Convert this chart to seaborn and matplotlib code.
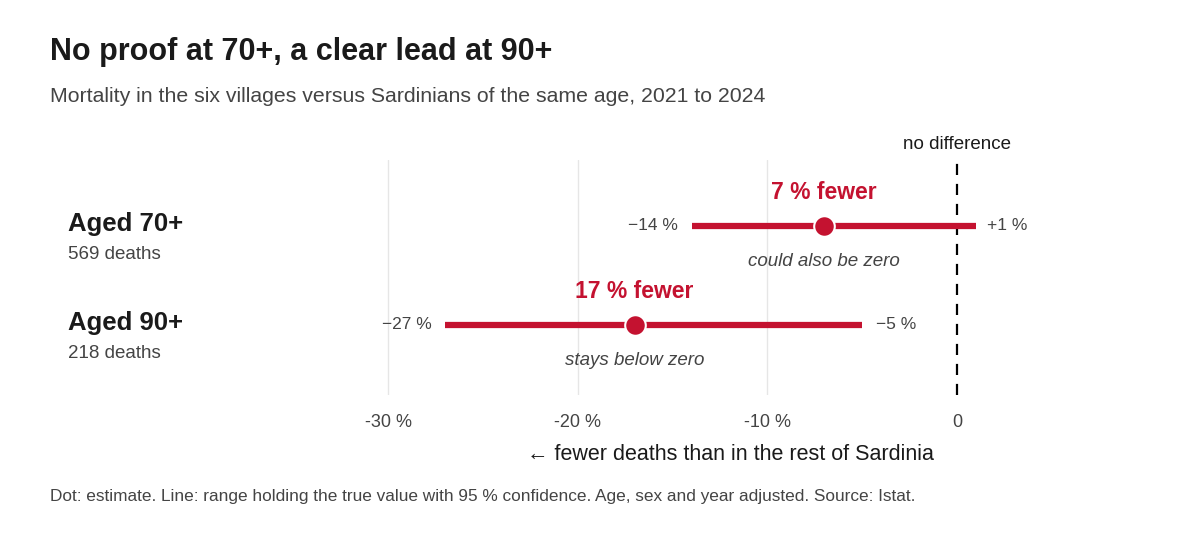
import numpy as np
import pandas as pd
import matplotlib
matplotlib.use("Agg")
import matplotlib.pyplot as plt
import seaborn as sns

groups = ["Aged 70+", "Aged 90+"]
deaths = ["569 deaths", "218 deaths"]
estimate = [-7, -17]
lower = [-14, -27]
upper = [1, -5]
headline = ["7 % fewer", "17 % fewer"]
verdict = ["could also be zero", "stays below zero"]
ticks = [-30, -20, -10, 0]
tick_labels = ["-30 %", "-20 %", "-10 %", "0"]

RED = "#c41230"
DARK = "#1a1a1a"
GREY = "#444444"

sns.set_style("white")
plt.rcParams["font.family"] = ["Liberation Sans", "DejaVu Sans"]

fig = plt.figure(figsize=(12, 5.33), dpi=100)
ax = fig.add_axes([0.275, 0.259, 0.6, 0.441])

df = pd.DataFrame({"row": [0, 1], "est": estimate, "lo": lower, "hi": upper})

for x in ticks[:-1]:
    ax.axvline(x, color="#e6e6e6", lw=1, zorder=0)
ax.axvline(0, color="black", lw=1.6, ls=(0, (5, 4)), zorder=1)

ax.hlines(df["row"], df["lo"], df["hi"], color=RED, lw=4.5, zorder=2)
sns.scatterplot(data=df, x="est", y="row", ax=ax, color=RED, s=220,
                edgecolor="white", linewidth=1.5, zorder=3, legend=False)

for i, r in df.iterrows():
    ax.text(r["est"], i - 0.34, headline[i], ha="center", va="center",
            color=RED, fontsize=16.5, fontweight="bold")
    ax.text(r["est"], i + 0.36, verdict[i], ha="center", va="center",
            color=GREY, fontsize=13.5, style="italic")
    ax.text(r["lo"] - 0.7, i, f"\u2212{abs(r['lo'])} %", ha="right", va="center",
            color=GREY, fontsize=12.5)
    hi_txt = f"+{r['hi']} %" if r["hi"] > 0 else f"\u2212{abs(r['hi'])} %"
    ax.text(r["hi"] + (0.6 if r["hi"] > 0 else 0.7), i, hi_txt, ha="left",
            va="center", color=GREY, fontsize=12.5)

ax.set_xlim(-33.06, 4.9)
ax.set_ylim(1.707, -0.667)
ax.set_yticks([])
ax.set_xticks(ticks)
ax.set_xticklabels(tick_labels, fontsize=13, color=GREY)
ax.tick_params(axis="x", length=0, pad=14)
ax.set_xlabel("")
ax.set_ylabel("")
sns.despine(ax=ax, left=True, bottom=True)

ax.text(0, -0.82, "no difference", ha="center", va="center", fontsize=13.5,
        color=DARK, clip_on=False)

for i, (g, d) in enumerate(zip(groups, deaths)):
    yb = 1 - (224 + 99 * i) / 533
    fig.text(68 / 1200, yb, g, fontsize=18.5, fontweight="bold",
             color=DARK, va="center")
    fig.text(68 / 1200, yb - 0.057, d, fontsize=13.5, color=GREY, va="center")

fig.text(50 / 1200, 1 - 52 / 533, "No proof at 70+, a clear lead at 90+",
         fontsize=22, fontweight="bold", color=DARK, va="center")
fig.text(50 / 1200, 1 - 96 / 533,
         "Mortality in the six villages versus Sardinians of the same age, 2021 to 2024",
         fontsize=15.3, color=GREY, va="center")
fig.text(730 / 1200, 1 - 455 / 533, "\u2190 fewer deaths than in the rest of Sardinia",
         fontsize=15.5, color=DARK, ha="center", va="center")
fig.text(50 / 1200, 1 - 497 / 533,
         "Dot: estimate. Line: range holding the true value with 95 % confidence. "
         "Age, sex and year adjusted. Source: Istat.",
         fontsize=12.4, color=GREY, va="center")

fig.savefig("out.png", dpi=100)
